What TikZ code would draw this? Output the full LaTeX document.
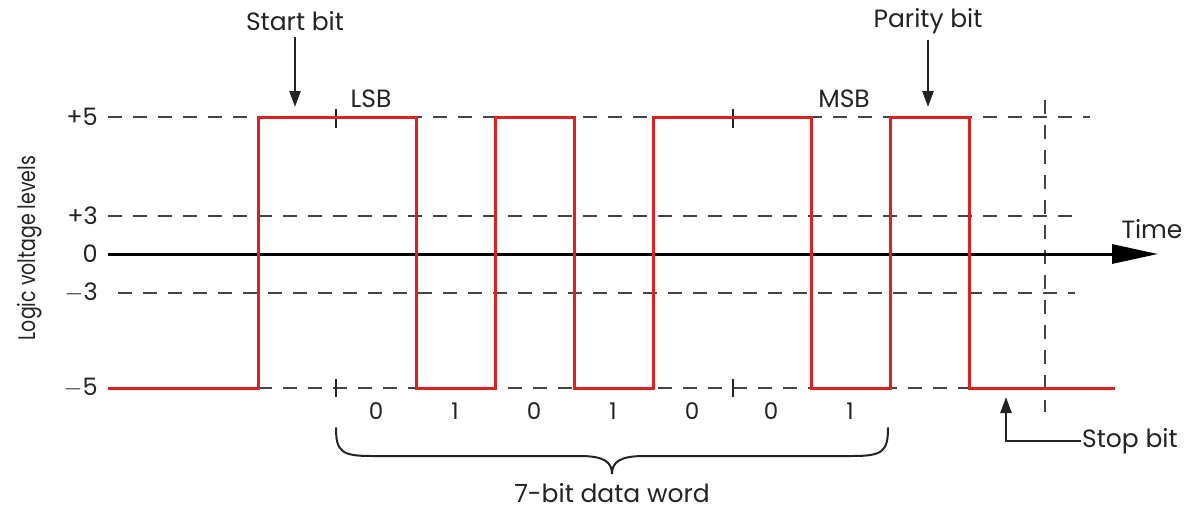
\documentclass[tikz,border=0pt]{standalone}
\usepackage{fontspec}
\setmainfont{Poppins}
\usetikzlibrary{arrows.meta}
\definecolor{sigred}{RGB}{222,32,32}
\definecolor{ink}{RGB}{35,35,35}
\begin{document}
\begin{tikzpicture}[x=1pt,y=-1pt,
  gridline/.style={ink!85,line width=1.4pt,dash pattern=on 14pt off 11pt},
  sig/.style={sigred,line width=3pt,line join=miter},
  lbl/.style={font=\fontsize{25}{28}\selectfont,text=ink,inner sep=1pt},
  lvl/.style={font=\fontsize{24}{27}\selectfont,text=ink,anchor=east,inner sep=1pt},
  bitl/.style={font=\fontsize{23}{26}\selectfont,text=ink,inner sep=1pt},
  ptr/.style={ink,line width=2.5pt,-{Triangle[length=16pt,width=11pt]}},
  tick/.style={ink,line width=2.2pt}]
\useasboundingbox (0,0) rectangle (1198,515);
% level labels
\node[lvl] (l5)  at (99,117) {+5};
\node[lvl] (l3)  at (99,216) {+3};
\node[lvl] (l0)  at (99,254) {0};
\node[lvl] (lm3) at (99,293) {$-$3};
\node[lvl] (lm5) at (99,388) {$-$5};
\node[font=\fontsize{24}{27}\selectfont,text=ink,rotate=90] (ylab) at (30,248) {\scalebox{0.79}[1]{Logic voltage levels}};
% dashed grid
\draw[gridline] (108,117) -- (1090,117);
\draw[gridline] (108,216) -- (1075,216);
\draw[gridline] (118,293) -- (1075,293);
\draw[gridline] (108,388) -- (1115,388);
\draw[gridline] (1045,100) -- (1045,412);
% ticks
\draw[tick] (336,109) -- (336,128);
\draw[tick] (733,109) -- (733,128);
\draw[tick] (336,379) -- (336,397);
\draw[tick] (733,379) -- (733,397);
% time axis
\coordinate (ax0) at (108,254);
\coordinate (ax1) at (1158,254);
\draw[black,line width=3pt,-{Triangle[length=46pt,width=19pt]}] (ax0) -- (ax1);
\node[lbl] (time) at (1152,229) {Time};
% signal
\draw[sig] (108,388) -- (258,388) -- (258,117) -- (416,117) -- (416,388)
  -- (495,388) -- (495,117) -- (574,117) -- (574,388) -- (653,388)
  -- (653,117) -- (811,117) -- (811,388) -- (890,388) -- (890,117)
  -- (969,117) -- (969,388) -- (1115,388);
% labels
\node[lbl] (start) at (295,21) {Start bit};
\coordinate (startp) at (295,107);
\draw[ptr] (start.south) ++(0,5) -- (startp);
\node[lbl] (parity) at (928,21) {Parity bit};
\coordinate (parityp) at (928,107);
\draw[ptr] (parity.south) ++(0,5) -- (parityp);
\node[lbl] (lsb) at (371,99) {LSB};
\node[lbl] (msb) at (844,99) {MSB};
\node[lbl,anchor=west] (stop) at (1081,441) {Stop bit};
\coordinate (stopc) at (1006,441);
\coordinate (stopp) at (1006,397);
\draw[ptr] (stop.west) -- (stopc) -- (stopp);
% bit values
\foreach \v [count=\i from 0] in {0,1,0,1,0,0,1}
  \node[bitl] (b\i) at ({376+79*\i},411) {\v};
% brace
\draw[ink,line width=2pt,line cap=round]
  (336,428) .. controls (336,452) and (342,456) .. (372,456)
  -- (580,456) .. controls (604,456) and (612,462) .. (612,474)
  .. controls (612,462) and (620,456) .. (644,456)
  -- (852,456) .. controls (882,456) and (888,452) .. (888,428);
\node[lbl] (word) at (612,493) {7-bit data word};
\end{tikzpicture}
\end{document}
